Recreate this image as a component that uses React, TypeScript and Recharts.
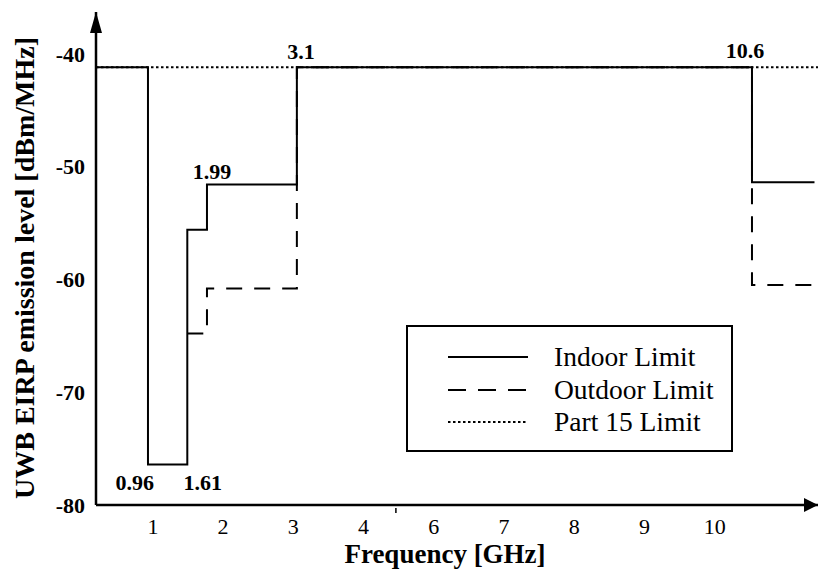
import React from 'react';
import { LineChart, Line, XAxis, YAxis, Legend, ReferenceDot } from 'recharts';

const FONT = '"Liberation Serif", "Times New Roman", Times, serif';

// The frequency axis of the figure is schematic: tick labels 1,2,3,4,6,7,8,9,10 are evenly spaced.
// Positions below in units of that drawn axis (tick "1" = 1, tick "10" = 9).
const edgeAxisPos = [0.19, 0.93, 1.49, 1.77, 3.05, 9.53, 10.42];
const indoorDbm = [-41.2, -76.4, -55.6, -51.6, -41.2, -51.4, -51.4];
const outdoorDbm = [-41.2, -76.4, -64.8, -60.8, -41.2, -60.5, -60.5];
const part15AxisPos = [0.19, 10.47];
const part15Dbm = [-41.2, -41.2];

const xTickPos = [1, 2, 3, 4, 5, 6, 7, 8, 9];
const xTickLabels = ['1', '2', '3', '4', '6', '7', '8', '9', '10'];
const xBreakPos = [4.46];
const yTicks = [-80, -70, -60, -50, -40];

const annotationText = ['3.1', '10.6', '1.99', '0.96', '1.61'];
const annotationPos = [3.11, 9.43, 1.84, 0.74, 1.71];
const annotationDbm = [-39.8, -39.7, -50.4, -78.0, -78.0];

const legendNames = ['Indoor Limit', 'Outdoor Limit', 'Part 15 Limit'];

const indoorData = edgeAxisPos.map((pos, i) => ({ pos, dbm: indoorDbm[i] }));
// Below 1.61 GHz the outdoor limit coincides with the indoor one (hidden under the solid line),
// so the dashed trace is drawn from the point where the two limits part.
const outdoorData = edgeAxisPos
  .map((pos, i) => ({ pos, dbm: outdoorDbm[i] }))
  .filter((_, i) => i >= outdoorDbm.findIndex((v, j) => v !== indoorDbm[j]));
const part15Data = part15AxisPos.map((pos, i) => ({ pos, dbm: part15Dbm[i] }));

const DASH = { indoor: undefined as string | undefined, outdoor: '16 12', part15: '2.5 2.5' };
const legendDash = [DASH.indoor, '18 12', DASH.part15];

const XTick = (props: any) => {
  const { x, y, payload } = props;
  const v = payload.value;
  const idx = xTickPos.indexOf(v);
  if (idx < 0) {
    return <line x1={x} x2={x} y1={y - 10} y2={y - 5} stroke="#000" strokeWidth={1.5} />;
  }
  return (
    <text x={x} y={y} dy="0.71em" textAnchor="middle" fill="#000" fontSize={22} fontFamily={FONT}>
      {xTickLabels[idx]}
    </text>
  );
};

const LegendBox = () => (
  <div
    style={{
      width: 327,
      height: 127,
      boxSizing: 'border-box',
      border: '2px solid #000',
      background: '#fff',
      fontFamily: FONT,
      fontSize: 27.5,
      color: '#000',
      paddingTop: 14,
    }}
  >
    {legendNames.map((name, i) => (
      <div key={name} style={{ display: 'flex', alignItems: 'center', height: 32.5, lineHeight: '32.5px' }}>
        <svg width={80} height={6} style={{ marginLeft: 40, display: 'block' }}>
          <line x1={0} x2={80} y1={3} y2={3} stroke="#000" strokeWidth={2} strokeDasharray={legendDash[i]} />
        </svg>
        <span style={{ marginLeft: 26, whiteSpace: 'nowrap' }}>{name}</span>
      </div>
    ))}
  </div>
);

export default function App() {
  return (
    <div style={{ position: 'absolute', left: 0, top: 0, width: 819, height: 573, background: '#fff' }}>
      <svg width={0} height={0} style={{ position: 'absolute' }}>
        <defs>
          <marker id="arrowY" markerUnits="userSpaceOnUse" markerWidth={22} markerHeight={12} refX={21} refY={6} orient="auto-start-reverse">
            <path d="M0,0 L21,6 L0,12 z" fill="#000" />
          </marker>
          <marker id="arrowX" markerUnits="userSpaceOnUse" markerWidth={15} markerHeight={14} refX={14} refY={7} orient="auto">
            <path d="M0,0 L14,7 L0,14 z" fill="#000" />
          </marker>
        </defs>
      </svg>
      <LineChart width={819} height={573} margin={{ top: 12, right: 1, bottom: 0, left: 0 }}>
        <XAxis
          type="number"
          dataKey="pos"
          domain={[0.19, 10.47]}
          allowDataOverflow
          ticks={[...xTickPos.slice(0, 4), ...xBreakPos, ...xTickPos.slice(4)]}
          interval={0}
          tick={<XTick />}
          tickLine={false}
          tickSize={0}
          tickMargin={13}
          height={68}
          axisLine={{ stroke: '#000', strokeWidth: 2.5, markerEnd: 'url(#arrowX)' } as any}
          label={{
            content: () => (
              <text x={445} y={563} textAnchor="middle" fill="#000" fontSize={27} fontWeight="bold" fontFamily={FONT}>
                Frequency [GHz]
              </text>
            ),
          }}
        />
        <YAxis
          type="number"
          domain={[-80, -36.3]}
          allowDataOverflow
          ticks={yTicks}
          interval={0}
          width={96}
          tickLine={false}
          tickSize={0}
          tickMargin={11}
          tick={{ fill: '#000', fontSize: 22, fontWeight: 'bold', fontFamily: FONT }}
          axisLine={{ stroke: '#000', strokeWidth: 2.5, markerStart: 'url(#arrowY)' } as any}
          label={{
            content: () => (
              <text
                x={24}
                y={268}
                transform="rotate(-90 24 268)"
                textAnchor="middle"
                dy="0.35em"
                fill="#000"
                fontSize={28}
                fontWeight="bold"
                fontFamily={FONT}
              >
                UWB EIRP emission level [dBm/MHz]
              </text>
            ),
          }}
        />
        <Legend
          layout="vertical"
          align="center"
          verticalAlign="middle"
          wrapperStyle={{ left: 406, top: 325, width: 327, height: 127 }}
          content={() => <LegendBox />}
        />
        <Line
          data={part15Data}
          dataKey="dbm"
          name="Part 15 Limit"
          type="linear"
          stroke="#000"
          strokeWidth={2}
          strokeDasharray={DASH.part15}
          dot={false}
          activeDot={false}
          isAnimationActive={false}
        />
        <Line
          data={outdoorData}
          dataKey="dbm"
          name="Outdoor Limit"
          type="stepAfter"
          stroke="#000"
          strokeWidth={2}
          strokeDasharray={DASH.outdoor}
          dot={false}
          activeDot={false}
          isAnimationActive={false}
        />
        <Line
          data={indoorData}
          dataKey="dbm"
          name="Indoor Limit"
          type="stepAfter"
          stroke="#000"
          strokeWidth={2}
          dot={false}
          activeDot={false}
          isAnimationActive={false}
        />
        {annotationText.map((t, i) => (
          <ReferenceDot
            key={t}
            x={annotationPos[i]}
            y={annotationDbm[i]}
            r={0}
            fill="none"
            stroke="none"
            ifOverflow="visible"
            label={{
              content: (p: any) => {
                const vb = p.viewBox || {};
                return (
                  <text
                    x={vb.x + (vb.width || 0) / 2}
                    y={vb.y + (vb.height || 0) / 2}
                    dy="0.35em"
                    textAnchor="middle"
                    fill="#000"
                    fontSize={22}
                    fontWeight="bold"
                    fontFamily={FONT}
                  >
                    {t}
                  </text>
                );
              },
            }}
          />
        ))}
      </LineChart>
    </div>
  );
}
